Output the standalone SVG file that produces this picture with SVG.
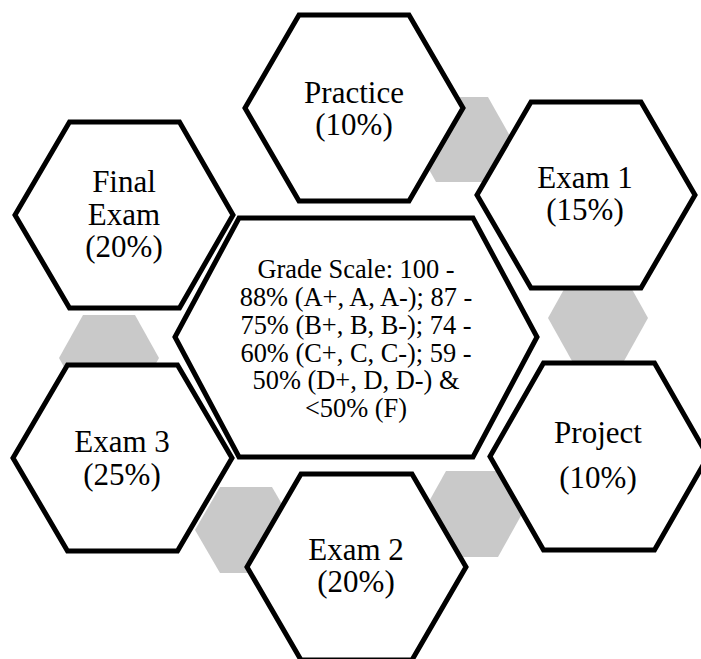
<svg xmlns="http://www.w3.org/2000/svg" width="701" height="659" viewBox="0 0 701 659">
<style>
.hex{fill:#ffffff;stroke:#000000;stroke-width:5;stroke-linejoin:miter}
.gray{fill:#c9c9c9;stroke:none}
text{font-family:'Liberation Serif','Times New Roman','DejaVu Serif',serif;fill:#000000;text-anchor:middle}
.lbl{font-size:31px}
.ctr{font-size:26.4px}
</style>
<rect width="701" height="659" fill="#ffffff"/>
<g id="connectors">
<polygon class="gray" points="412,139.5 436,97 488,97 512,139.5 488,182 436,182"/>
<polygon class="gray" points="548,318 572,275 624,275 648,318 624,361 572,361"/>
<polygon class="gray" points="422,514 446,471 498,471 522,514 498,557 446,557"/>
<polygon class="gray" points="195,530 220,487 272,487 297,530 272,573 220,573"/>
<polygon class="gray" points="59,358 83,315 135,315 159,358 135,401 83,401"/>
</g>
<g id="node-practice">
<polygon class="hex" points="245,108 299,15 409,15 463,108 409,201 299,201"/>
<text class="lbl" x="354" y="103" font-family="Liberation Serif, serif">Practice</text>
<text class="lbl" x="354" y="135" font-family="Liberation Serif, serif">(10%)</text>
</g>
<g id="node-exam1">
<polygon class="hex" points="477,195 531,102 641,102 695,195 641,288 531,288"/>
<text class="lbl" x="585" y="188">Exam 1</text>
<text class="lbl" x="585" y="220">(15%)</text>
</g>
<g id="node-project">
<polygon class="hex" points="490,456.5 543.5,363 654.5,363 708,456.5 654.5,550 543.5,550"/>
<text class="lbl" x="598" y="443">Project</text>
<text class="lbl" x="598" y="488">(10%)</text>
</g>
<g id="node-exam2">
<polygon class="hex" points="247,567 301,474 412,474 466,567 412,660 301,660"/>
<text class="lbl" x="356" y="560">Exam 2</text>
<text class="lbl" x="356" y="592">(20%)</text>
</g>
<g id="node-exam3">
<polygon class="hex" points="13,458 67.5,365 177.5,365 232,458 177.5,551 67.5,551"/>
<text class="lbl" x="122" y="452">Exam 3</text>
<text class="lbl" x="122" y="485">(25%)</text>
</g>
<g id="node-final">
<polygon class="hex" points="15,215 69.5,122 179.5,122 233,215 179.5,308 69.5,308"/>
<text class="lbl" x="124" y="192">Final</text>
<text class="lbl" x="124" y="225">Exam</text>
<text class="lbl" x="124" y="257">(20%)</text>
</g>
<g id="node-center">
<polygon class="hex" points="175,337 239,218 473,218 537,337 473,457 239,457"/>
<text class="ctr" x="356" y="278">Grade Scale: 100 -</text>
<text class="ctr" x="356" y="306">88% (A+, A, A-); 87 -</text>
<text class="ctr" x="356" y="333.5">75% (B+, B, B-); 74 -</text>
<text class="ctr" x="356" y="361.5">60% (C+, C, C-); 59 -</text>
<text class="ctr" x="356" y="389">50% (D+, D, D-) &amp;</text>
<text class="ctr" x="356" y="417">&lt;50% (F)</text>
</g>
</svg>
